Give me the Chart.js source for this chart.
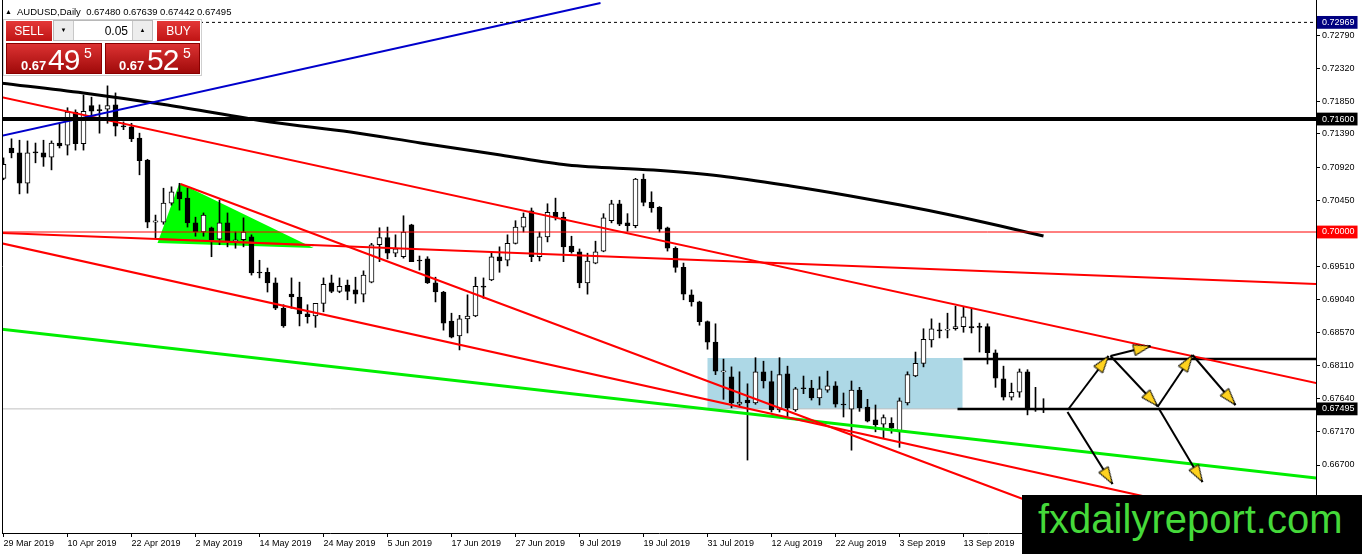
<!DOCTYPE html>
<html><head><meta charset="utf-8">
<script src="https://cdn.jsdelivr.net/npm/chart.js@4.4.1/dist/chart.umd.min.js"></script>
<style>
html,body{margin:0;padding:0;background:#fff;overflow:hidden}
#wrap{position:relative;width:1362px;height:554px;overflow:hidden}
#c{position:absolute;left:0;top:0}
.a{position:absolute;font-family:"Liberation Sans",Arial,sans-serif;white-space:pre;line-height:1}
.red{background:linear-gradient(#e43838,#bf1414);color:#fff;text-align:center}
.big{background:linear-gradient(#dc3232,#a00a0a);border:1px solid #8a0000;box-sizing:border-box}
</style></head><body>
<div id="wrap">
<canvas id="c" width="1362" height="554"></canvas>
<div class="a" style="left:5px;top:8px;font-size:7px">&#9650;</div>
<div class="a" style="left:17px;top:7px;font-size:9.5px;color:#000">AUDUSD,Daily  0.67480 0.67639 0.67442 0.67495</div>
<div class="a" style="left:3px;top:19px;width:199px;height:57px;background:#fff;border:1px solid #cfcfcf;box-sizing:border-box"></div>
<div class="a red" style="left:6px;top:21px;width:46px;height:20px;line-height:20px;font-size:12px">SELL</div>
<div class="a" style="left:53px;top:20px;width:100px;height:21px;border:1px solid #b8b8b8;box-sizing:border-box;background:#fff"></div>
<div class="a" style="left:54px;top:21px;width:19px;height:19px;background:#ededed;border-right:1px solid #c8c8c8;font-size:6px;text-align:center;line-height:19px">&#9660;</div>
<div class="a" style="left:73px;top:25px;width:55px;font-size:12px;text-align:right;color:#000">0.05</div>
<div class="a" style="left:132px;top:21px;width:20px;height:19px;background:#ededed;border-left:1px solid #c8c8c8;box-sizing:border-box;font-size:6px;text-align:center;line-height:19px">&#9650;</div>
<div class="a red" style="left:157px;top:21px;width:43px;height:20px;line-height:20px;font-size:12px">BUY</div>
<div class="a big" style="left:6px;top:43px;width:96px;height:31px">
  <span class="a" style="left:14px;top:15px;font-size:13px;font-weight:bold;color:#fff">0.67</span>
  <span class="a" style="left:41px;top:1px;font-size:30px;letter-spacing:-1px;color:#fff">49</span>
  <span class="a" style="left:77px;top:2px;font-size:14px;color:#fff">5</span>
</div>
<div class="a big" style="left:105px;top:43px;width:95px;height:31px">
  <span class="a" style="left:13px;top:15px;font-size:13px;font-weight:bold;color:#fff">0.67</span>
  <span class="a" style="left:41px;top:1px;font-size:30px;letter-spacing:-1px;color:#fff">52</span>
  <span class="a" style="left:77px;top:2px;font-size:14px;color:#fff">5</span>
</div>
<div class="a" style="left:1022px;top:495px;width:340px;height:59px;background:#000"></div>
<div class="a" style="left:1038px;top:499px;font-size:40px;color:#45d93a">fxdailyreport.com</div>
</div>
<script>
// ---- data ----
const dateLabels = ['29 Mar 2019','10 Apr 2019','22 Apr 2019','2 May 2019','14 May 2019','24 May 2019','5 Jun 2019','17 Jun 2019','27 Jun 2019','9 Jul 2019','19 Jul 2019','31 Jul 2019','12 Aug 2019','22 Aug 2019','3 Sep 2019','13 Sep 2019'];
const dateLabelBars = [0,8,16,24,32,40,48,56,64,72,80,88,96,104,112,120];

const opens = [0.7076,0.7119,0.7112,0.7069,0.7112,0.7112,0.7106,0.7126,0.7123,0.7170,
0.7125,0.7179,0.7173,0.7174,0.7180,0.7150,0.7149,0.7133,0.7102,0.7014,
0.7014,0.7041,0.7057,0.7048,0.7013,0.7000,0.7006,0.6990,0.7013,0.6987,
0.6989,0.6993,0.6943,0.6943,0.6928,0.6892,0.6912,0.6908,0.6884,0.6881,
0.6899,0.6928,0.6916,0.6925,0.6918,0.6912,0.6929,0.6982,0.6992,0.6970,
0.6965,0.7010,0.6960,0.6962,0.6928,0.6915,0.6874,0.6853,0.6877,0.6881,
0.6923,0.6932,0.6965,0.6960,0.6984,0.7007,0.7030,0.6965,0.6993,0.7028,
0.7021,0.6980,0.6972,0.6928,0.6956,0.6973,0.7016,0.7040,0.7013,0.7009,
0.7075,0.7042,0.7035,0.7006,0.6977,0.6950,0.6911,0.6901,0.6873,0.6844,
0.6802,0.6795,0.6756,0.6762,0.6758,0.6802,0.6788,0.6748,0.6799,0.6748,
0.6779,0.6779,0.6765,0.6776,0.6782,0.6756,0.6749,0.6776,0.6752,0.6734,
0.6728,0.6729,0.6717,0.6758,0.6796,0.6814,0.6847,0.6861,0.6861,0.6863,
0.6866,0.6866,0.6866,0.6866,0.6829,0.6792,0.6766,0.6773,0.6802,0.6749,
0.67480];
const highs = [0.7105,0.7132,0.7130,0.7129,0.7126,0.7130,0.7129,0.7154,0.7176,0.7173,
0.7194,0.7191,0.7180,0.7207,0.7197,0.7156,0.7154,0.7140,0.7103,0.7024,
0.7062,0.7064,0.7069,0.7062,0.7021,0.7027,0.7007,0.7045,0.7027,0.7000,
0.7020,0.6996,0.6960,0.6949,0.6935,0.6897,0.6935,0.6929,0.6897,0.6899,
0.6935,0.6939,0.6935,0.6932,0.6936,0.6945,0.6984,0.7006,0.7007,0.6996,
0.7023,0.7011,0.6966,0.6965,0.6936,0.6916,0.6885,0.6882,0.6911,0.6936,
0.6935,0.6972,0.6979,0.6996,0.7016,0.7027,0.7034,0.7000,0.7040,0.7048,
0.7028,0.6994,0.6976,0.6970,0.6987,0.7026,0.7045,0.7045,0.7026,0.7076,
0.7082,0.7057,0.7036,0.7007,0.6979,0.6956,0.6918,0.6902,0.6874,0.6870,
0.6820,0.6809,0.6802,0.6785,0.6822,0.6817,0.6803,0.6822,0.6810,0.6780,
0.6796,0.6790,0.6795,0.6803,0.6788,0.6772,0.6789,0.6780,0.6763,0.6755,
0.6741,0.6737,0.6765,0.6802,0.6830,0.6863,0.6877,0.6871,0.6885,0.6895,
0.6894,0.6891,0.6871,0.6870,0.6833,0.6810,0.6786,0.6806,0.6805,0.6780,
0.67639];
const lows = [0.7074,0.7105,0.7054,0.7055,0.7098,0.7093,0.7088,0.7119,0.7109,0.7116,
0.7116,0.7163,0.7140,0.7154,0.7136,0.7145,0.7128,0.7081,0.7006,0.6992,
0.7011,0.7038,0.7031,0.7007,0.6994,0.6994,0.6965,0.6982,0.6979,0.6977,
0.6979,0.6939,0.6935,0.6915,0.6890,0.6865,0.6892,0.6867,0.6871,0.6865,
0.6887,0.6914,0.6914,0.6904,0.6899,0.6901,0.6928,0.6958,0.6962,0.6965,
0.6963,0.6958,0.6946,0.6927,0.6901,0.6861,0.6850,0.6833,0.6857,0.6880,
0.6906,0.6931,0.6943,0.6952,0.6983,0.7000,0.6958,0.6959,0.6986,0.7017,
0.6958,0.6970,0.6921,0.6912,0.6955,0.6972,0.7013,0.7009,0.7001,0.7006,
0.7037,0.7028,0.7000,0.6973,0.6943,0.6904,0.6895,0.6868,0.6834,0.6798,
0.6763,0.6751,0.6752,0.6677,0.6756,0.6779,0.6745,0.6745,0.6738,0.6746,
0.6771,0.6762,0.6755,0.6773,0.6752,0.6738,0.6691,0.6746,0.6731,0.6717,
0.6708,0.6715,0.6695,0.6755,0.6795,0.6809,0.6837,0.6850,0.6850,0.6861,
0.6858,0.6857,0.6830,0.6813,0.6780,0.6762,0.6762,0.6766,0.6741,0.6746,
0.67442];
const closes = [0.7096,0.7112,0.7069,0.7112,0.7112,0.7106,0.7126,0.7122,0.7170,0.7125,
0.7171,0.7171,0.7172,0.7179,0.7150,0.7149,0.7132,0.7101,0.7014,0.7016,
0.7041,0.7057,0.7047,0.7013,0.7000,0.7024,0.6989,0.7013,0.6987,0.6989,
0.7000,0.6942,0.6942,0.6928,0.6892,0.6867,0.6908,0.6884,0.6880,0.6899,
0.6926,0.6916,0.6923,0.6916,0.6912,0.6939,0.6982,0.6992,0.6970,0.6976,
0.7000,0.6958,0.6959,0.6928,0.6915,0.6871,0.6851,0.6877,0.6881,0.6923,
0.6922,0.6965,0.6959,0.6984,0.7007,0.7021,0.6965,0.6993,0.7028,0.7021,
0.6979,0.6972,0.6928,0.6959,0.6972,0.7020,0.7040,0.7011,0.7009,0.7075,
0.7042,0.7034,0.7004,0.6977,0.6950,0.6912,0.6901,0.6873,0.6844,0.6803,
0.6803,0.6758,0.6759,0.6758,0.6802,0.6789,0.6748,0.6798,0.6751,0.6778,
0.6778,0.6765,0.6778,0.6782,0.6756,0.6755,0.6776,0.6751,0.6732,0.6727,
0.6737,0.6722,0.6761,0.6798,0.6814,0.6848,0.6863,0.6860,0.6862,0.6866,
0.6880,0.6864,0.6865,0.6829,0.6793,0.6766,0.6773,0.6802,0.6749,0.6748,
0.67495];

const priceTicks = [0.72790,0.72320,0.71850,0.71390,0.70920,0.70450,0.69510,0.69040,0.68570,0.68110,0.67640,0.67170,0.66700,0.66230];
const priceTickLabels = ['0.72790','0.72320','0.71850','0.71390','0.70920','0.70450','0.69510','0.69040','0.68570','0.68110','0.67640','0.67170','0.66700','0.66230'];
const markerLevels = [0.72969,0.71600,0.70000,0.67495];
const markerLabels = ['0.72969','0.71600','0.70000','0.67495'];
const markerColors = ['#000080','#000000','#ff0000','#000000'];

// indicator (moving average) read at sample bars
const maPoints = [[-0.375,0.72110],[10,0.71969],[20.5,0.71799],[33.375,0.71558],[43.375,0.71416],[52.125,0.71261],[62.125,0.71091],[70.5,0.70949],[81.25,0.70878],[89.625,0.70793],[98.375,0.70651],[105.875,0.70510],[112.125,0.70382],[118.375,0.70241],[124.625,0.70085],[130,0.69943]];
// drawn objects (bar index, price)
const blueLine = [[-0.375,0.71360],[74.625,0.73244]];
const redUpper = [[-0.375,0.71912],[164.125,0.67861]];
const redFlat = [[-0.375,0.69986],[164.125,0.69263]];
const redApex = [[22.125,0.70680],[137.125,0.65807]];
const redLower = [[-0.375,0.69844],[162.125,0.65765]];
const greenLine = [[-0.375,0.68626],[164.125,0.66516]];
const triangle = [[22,0.70694],[38.75,0.69773],[19.25,0.69844],[22,0.70694]];
const triangleBase = [[19.25,0.69900],[38.75,0.69814]];
const rangeBox = [[88,0.68215],[119.875,0.68215],[119.875,0.67493],[88,0.67493],[88,0.68215]];
const resistanceSeg = [[120,0.68201],[164.125,0.68201]];
const supportSeg = [[119.25,0.67493],[164.125,0.67493]];
const level7160 = 0.71600, level7000 = 0.70000, levelHigh = 0.72969, bidLevel = 0.67495;
const arrows = [
 [[133.125,0.67493],[138.125,0.68244]],
 [[138.375,0.68244],[143.375,0.68385]],
 [[138.375,0.68244],[144.25,0.67535]],
 [[144.25,0.67521],[148.625,0.68258]],
 [[148.625,0.68258],[154,0.67550]],
 [[133,0.67450],[138.625,0.66431]],
 [[144.375,0.67507],[149.875,0.66459]]
];

// ---- chart ----
const X_MIN = -0.1875, X_MAX = 164.0625, Y_MIN = 0.65737, Y_MAX = 0.73286;
const bars = opens.map((_, i) => i);
const pts = a => a.map(p => ({x: p[0], y: p[1]}));
function lineDS(points, color, width, extra) {
  return Object.assign({type: 'line', data: pts(points), borderColor: color, borderWidth: width,
    pointRadius: 0, pointHoverRadius: 0, fill: false, tension: 0, order: 2}, extra || {});
}
function hLine(v, color, width, extra) { return lineDS([[X_MIN, v], [X_MAX, v]], color, width, extra); }

function makeHead() {
  const c = document.createElement('canvas'); c.width = 38; c.height = 38;
  const g = c.getContext('2d');
  g.beginPath(); g.moveTo(19, 19); g.lineTo(13.5, 36); g.lineTo(24.5, 36); g.closePath();
  g.fillStyle = '#ffd21f'; g.fill(); g.strokeStyle = '#000'; g.lineWidth = 1; g.stroke();
  return c;
}
const head = makeHead();
function arrowDS(a) {
  return {type: 'line', data: pts(a), borderColor: '#000', borderWidth: 2, fill: false, order: 1,
    pointStyle: head, pointBorderWidth: 0, pointHoverRadius: 0,
    pointRadius: ctx => ctx.dataIndex === 1 ? 6 : 0,
    pointRotation: ctx => {
      const ch = ctx.chart, d = ctx.dataset.data;
      const dx = ch.scales.x.getPixelForValue(d[1].x) - ch.scales.x.getPixelForValue(d[0].x);
      const dy = ch.scales.y.getPixelForValue(d[1].y) - ch.scales.y.getPixelForValue(d[0].y);
      return Math.atan2(dx, -dy) * 180 / Math.PI;
    }};
}

const datasets = [
  lineDS(rangeBox, 'rgba(0,0,0,0)', 0, {fill: 'shape', backgroundColor: '#add8e6', order: 20}),
  lineDS(triangle, 'rgba(0,0,0,0)', 0, {fill: 'shape', backgroundColor: '#00ff00', order: 19}),
  hLine(bidLevel, '#c0c0c0', 1, {order: 18}),
  {type: 'bar', data: bars.map(i => ({x: i, y: [lows[i], highs[i]]})), backgroundColor: '#000',
   barThickness: 1, grouped: false, order: 10},
  {type: 'bar', data: bars.map(i => ({x: i, y: [opens[i], closes[i]]})),
   backgroundColor: bars.map(i => closes[i] > opens[i] ? '#ffffff' : '#000000'),
   borderColor: '#000', borderWidth: 1, borderSkipped: false, minBarLength: 1,
   barThickness: 5, grouped: false, order: 9},
  lineDS(maPoints, '#000', 3, {cubicInterpolationMode: 'monotone', order: 5}),
  hLine(levelHigh, '#000', 1, {borderDash: [3, 3]}),
  hLine(level7000, '#ff0000', 1),
  hLine(level7160, '#000', 4),
  lineDS(blueLine, '#0000cc', 2),
  lineDS(redUpper, '#ff0000', 2),
  lineDS(redFlat, '#ff0000', 2),
  lineDS(triangleBase, '#8c7d12', 2),
  lineDS(redApex, '#ff0000', 2),
  lineDS(redLower, '#ff0000', 2),
  lineDS(greenLine, '#00ee00', 3),
  lineDS(resistanceSeg, '#000', 2.5),
  lineDS(supportSeg, '#000', 2.5)
].concat(arrows.map(arrowDS));

const allY = priceTicks.concat(markerLevels);
const allYLabels = priceTickLabels.concat(markerLabels);
const markerIndex = v => markerLevels.findIndex(m => Math.abs(m - v) < 1e-7);

const frame = {id: 'frame', afterDatasetsDraw(chart) {
  const {ctx, chartArea: a} = chart;
  ctx.save(); ctx.strokeStyle = '#000'; ctx.lineWidth = 1;
  ctx.beginPath(); ctx.moveTo(a.left + 0.5, a.top); ctx.lineTo(a.left + 0.5, a.bottom); ctx.stroke();
  ctx.restore();
}};

new Chart(document.getElementById('c'), {
  type: 'bar',
  data: {datasets},
  plugins: [frame],
  options: {
    responsive: false, animation: false, events: [],
    layout: {autoPadding: false, padding: {left: 2, top: 0, right: 0, bottom: 0}},
    plugins: {legend: {display: false}, tooltip: {enabled: false}},
    scales: {
      x: {
        type: 'linear', position: 'bottom', min: X_MIN, max: X_MAX, offset: false,
        afterBuildTicks: s => { s.ticks = dateLabelBars.map(v => ({value: v})); },
        afterFit: s => { s.height = 21; s.paddingLeft = 0; s.paddingRight = 0; },
        ticks: {autoSkip: false, maxRotation: 0, minRotation: 0, align: 'start', padding: 1,
          color: '#000', font: {family: 'Liberation Sans', size: 9},
          callback: v => dateLabels[dateLabelBars.indexOf(v)]},
        grid: {drawOnChartArea: false, drawTicks: true, tickLength: 4, tickColor: '#000', offset: false},
        border: {display: true, color: '#000', width: 1}
      },
      y: {
        type: 'linear', position: 'right', min: Y_MIN, max: Y_MAX,
        afterBuildTicks: s => { s.ticks = allY.map(v => ({value: v})); },
        afterFit: s => { s.width = 46; s.paddingTop = 0; s.paddingBottom = 0; },
        ticks: {autoSkip: false, padding: 2,
          font: {family: 'Liberation Sans', size: 9},
          color: ctx => markerIndex(ctx.tick.value) >= 0 ? '#ffffff' : '#000000',
          showLabelBackdrop: ctx => markerIndex(ctx.tick.value) >= 0,
          backdropColor: ctx => { const k = markerIndex(ctx.tick.value); return k >= 0 ? markerColors[k] : 'rgba(0,0,0,0)'; },
          backdropPadding: {left: 5, right: 3, top: 1, bottom: 1},
          callback: (v, i) => allYLabels[i]},
        grid: {drawOnChartArea: false, drawTicks: true, tickLength: 4, tickColor: '#000'},
        border: {display: true, color: '#000', width: 1}
      }
    }
  }
});
</script>
</body></html>
